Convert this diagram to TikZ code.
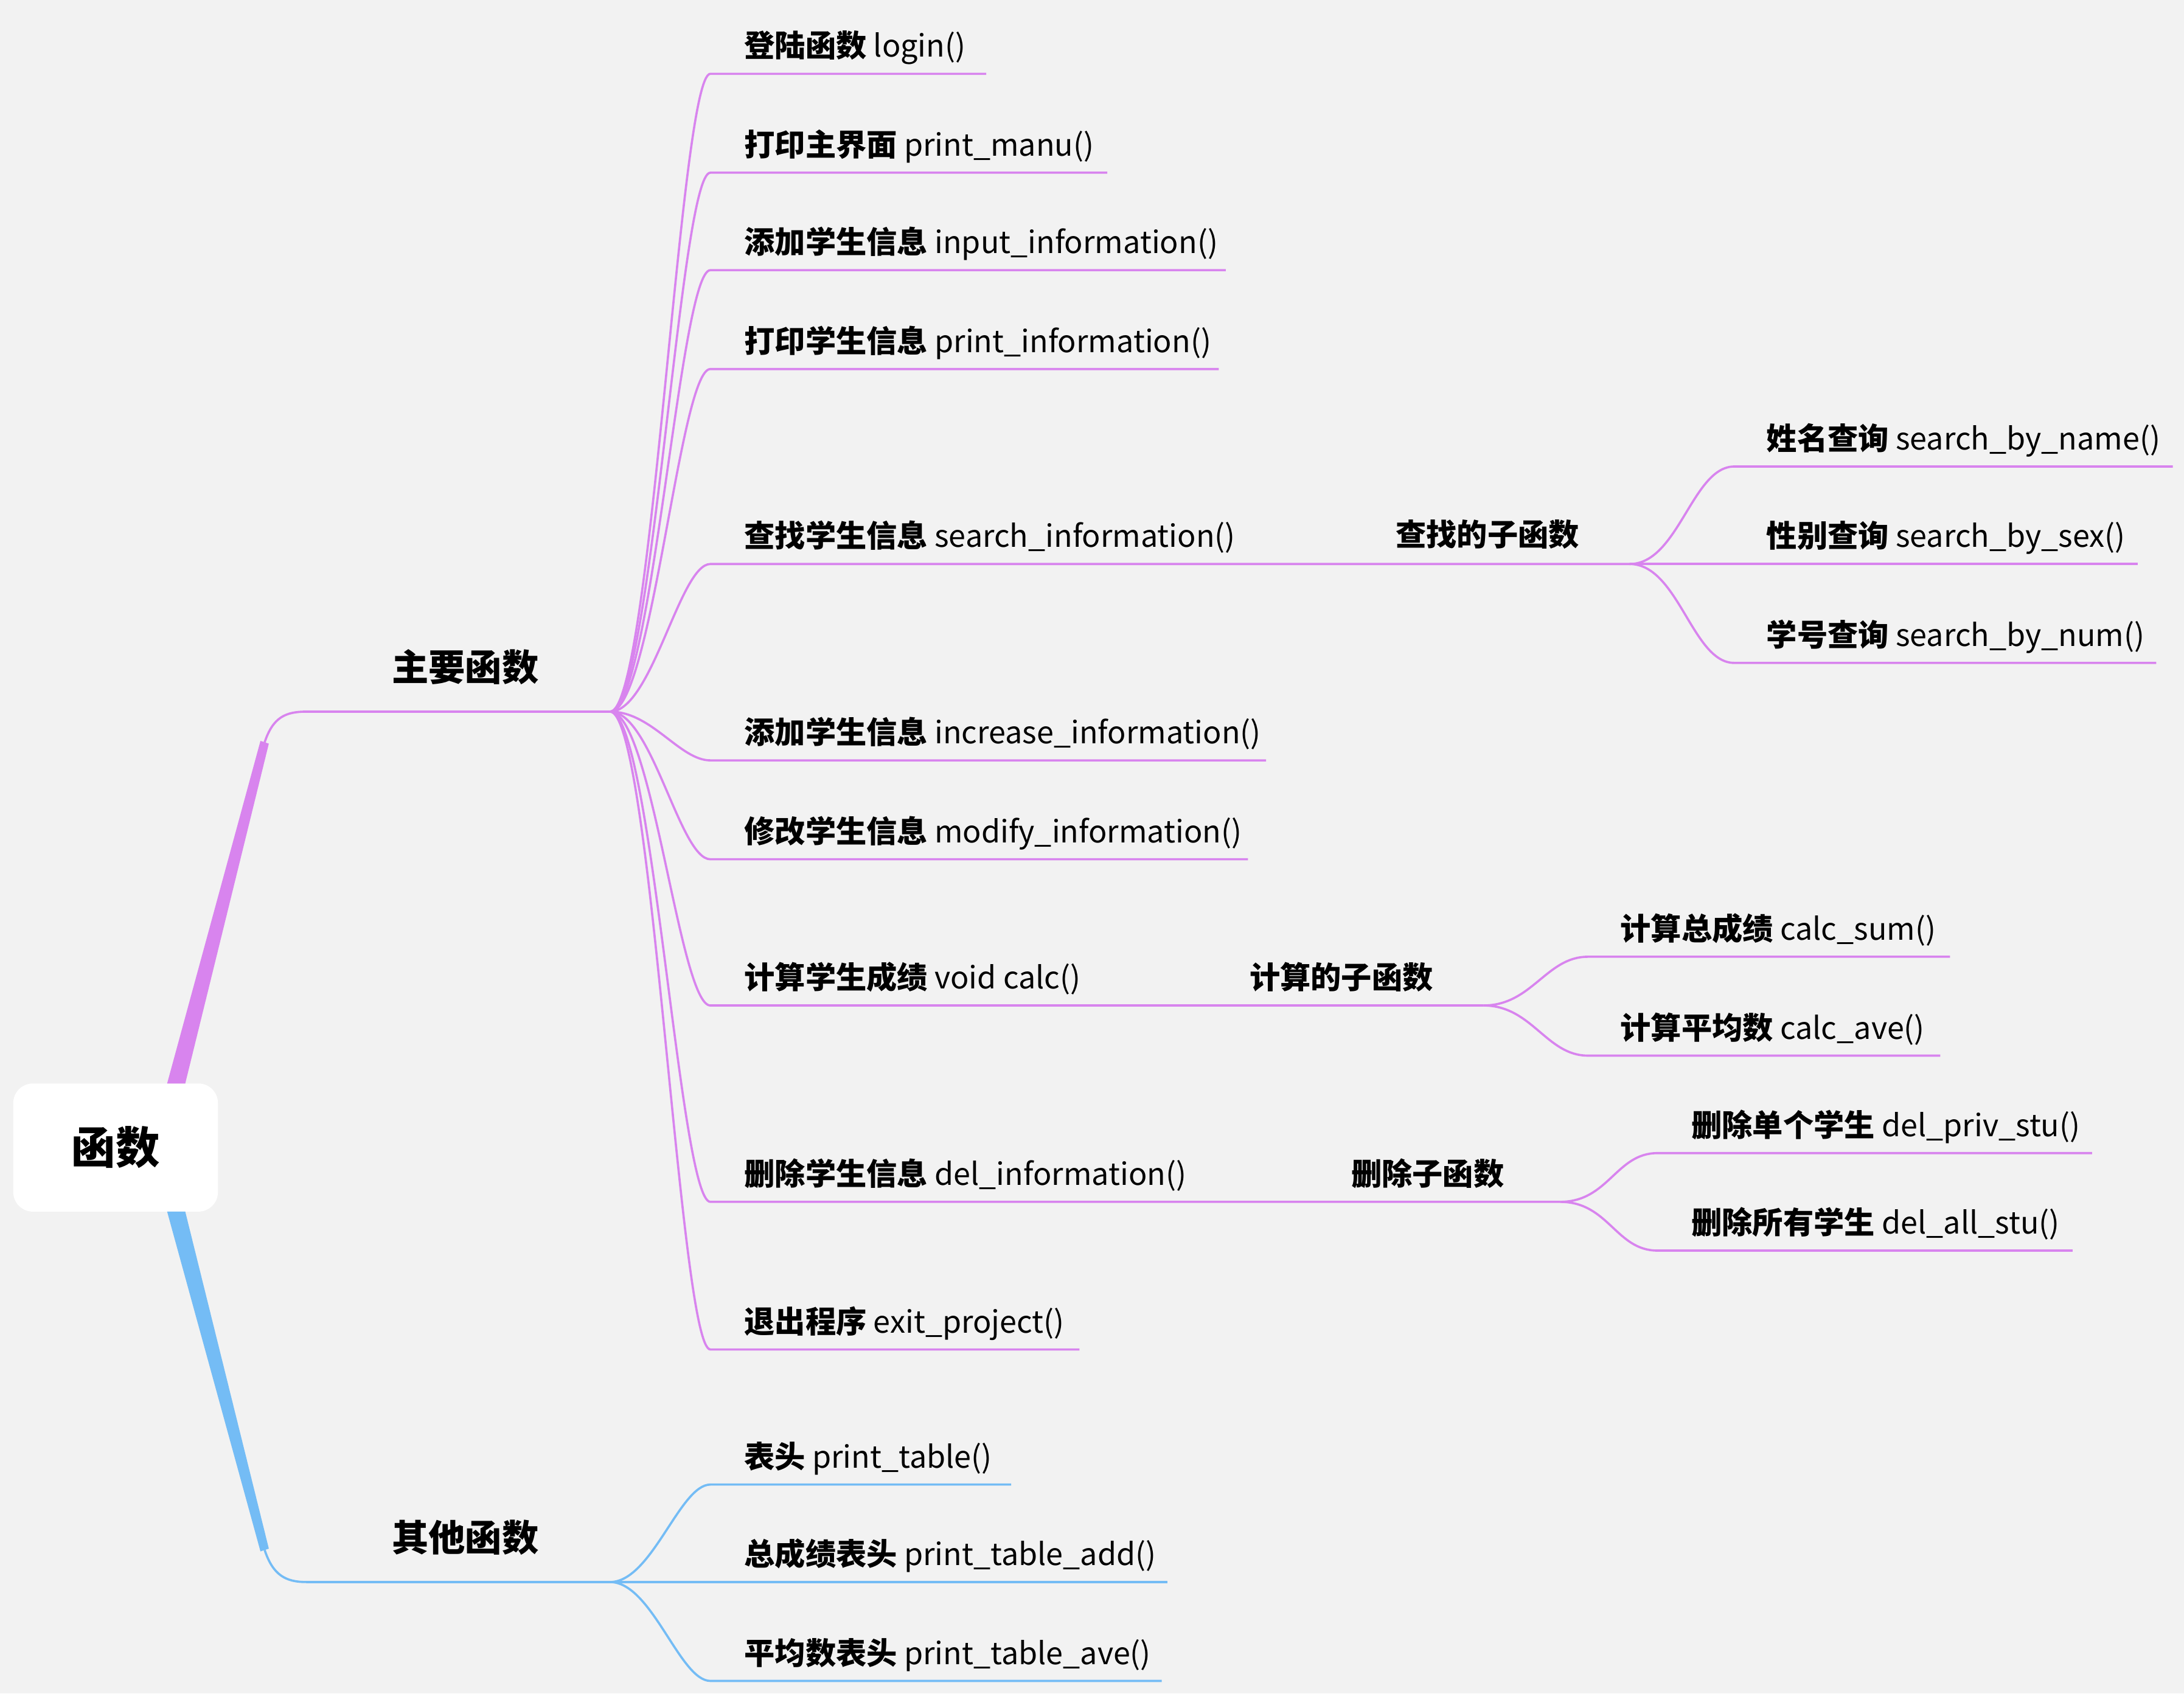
\documentclass[tikz,border=0pt]{standalone}
\usepackage{fontspec}
\setmainfont{Noto Sans CJK SC}
\usetikzlibrary{positioning}
\definecolor{mainpurple}{HTML}{D884EE}
\definecolor{otherblue}{HTML}{74BCF5}
\definecolor{bgcol}{HTML}{F2F2F2}
\tikzset{
  leaf/.style={anchor=base west, inner sep=0pt, font=\fontsize{12.5}{14}\selectfont},
  hub/.style={anchor=base, inner sep=0pt, font=\fontsize{12.5}{14}\selectfont\bfseries},
  branch/.style={line width=0.9pt},
}
\begin{document}
\begin{tikzpicture}[x=0.02cm, y=-0.02cm]
    \fill[bgcol] (0,0) rectangle (1568,1216);
    \useasboundingbox (0,0) rectangle (1568,1216);
    % root
    \node[fill=white, rounded corners=8pt, minimum width=2.94cm, minimum height=1.84cm,
          font=\fontsize{18}{20}\selectfont\bfseries] (root) at (83,824) {函数};
    % first level
    \fill[mainpurple] (120,778) -- (187,532) -- (193,534) -- (133,778) -- cycle;
    \fill[otherblue] (120,870) -- (187,1114) -- (193,1112) -- (133,870) -- cycle;
    \coordinate (mainhub) at (438,511);
    \coordinate (otherhub) at (438,1136);
    \draw[branch, mainpurple] (190,533) .. controls (196,515) and (205,511) .. (220,511) -- (mainhub);
    \draw[branch, otherblue] (190,1113) .. controls (196,1131) and (205,1136) .. (220,1136) -- (otherhub);
    \node[hub, font=\fontsize{15}{17}\selectfont\bfseries] (mainlbl) at (334,489) {主要函数};
    \node[hub, font=\fontsize{15}{17}\selectfont\bfseries] (otherlbl) at (334,1114) {其他函数};
    % main functions
    \foreach \uy/\xe/\cn/\fn [count=\i] in {
        53/708/{登陆函数}/{login()},
        124/795/{打印主界面}/{print\_manu()},
        194/880/{添加学生信息}/{input\_information()},
        265/875/{打印学生信息}/{print\_information()},
        405/1170/{查找学生信息}/{search\_information()},
        546/909/{添加学生信息}/{increase\_information()},
        617/896/{修改学生信息}/{modify\_information()},
        722/1065/{计算学生成绩}/{void calc()},
        863/1120/{删除学生信息}/{del\_information()},
        969/775/{退出程序}/{exit\_project()}} {
        \node[leaf] (m\i) at (534,\uy-12) {\textbf{\cn} \fn};
        \coordinate (me\i) at (\xe,\uy);
        \draw[branch, mainpurple] (mainhub) .. controls (468,511) and (488,\uy) .. (510,\uy) -- (me\i);
    }
    % other functions
    \foreach \uy/\xe/\cn/\fn [count=\i] in {
        1066/726/{表头}/{print\_table()},
        1136/838/{总成绩表头}/{print\_table\_add()},
        1207/834/{平均数表头}/{print\_table\_ave()}} {
        \node[leaf] (o\i) at (534,\uy-12) {\textbf{\cn} \fn};
        \coordinate (oe\i) at (\xe,\uy);
        \draw[branch, otherblue] (otherhub) .. controls (468,1136) and (488,\uy) .. (510,\uy) -- (oe\i);
    }
    % sub functions
    \node[hub] (searchsub) at (1068,392) {查找的子函数};
    \node[hub] (calcsub) at (963,710) {计算的子函数};
    \node[hub] (delsub) at (1025,851) {删除子函数};
    \foreach \uy/\xe/\cn/\fn [count=\i] in {
        335/1560/{姓名查询}/{search\_by\_name()},
        405/1535/{性别查询}/{search\_by\_sex()},
        476/1548/{学号查询}/{search\_by\_num()}} {
        \node[leaf] (s\i) at (1268,\uy-12) {\textbf{\cn} \fn};
        \coordinate (se\i) at (\xe,\uy);
        \draw[branch, mainpurple] (me5) .. controls (1205,405) and (1215,\uy) .. (1245,\uy) -- (se\i);
    }
    \foreach \uy/\xe/\cn/\fn [count=\i] in {
        687/1400/{计算总成绩}/{calc\_sum()},
        758/1393/{计算平均数}/{calc\_ave()}} {
        \node[leaf] (c\i) at (1163,\uy-12) {\textbf{\cn} \fn};
        \coordinate (ce\i) at (\xe,\uy);
        \draw[branch, mainpurple] (me8) .. controls (1100,722) and (1110,\uy) .. (1140,\uy) -- (ce\i);
    }
    \foreach \uy/\xe/\cn/\fn [count=\i] in {
        828/1502/{删除单个学生}/{del\_priv\_stu()},
        898/1488/{删除所有学生}/{del\_all\_stu()}} {
        \node[leaf] (d\i) at (1214,\uy-12) {\textbf{\cn} \fn};
        \coordinate (de\i) at (\xe,\uy);
        \draw[branch, mainpurple] (me9) .. controls (1155,863) and (1160,\uy) .. (1190,\uy) -- (de\i);
    }
\end{tikzpicture}
\end{document}
